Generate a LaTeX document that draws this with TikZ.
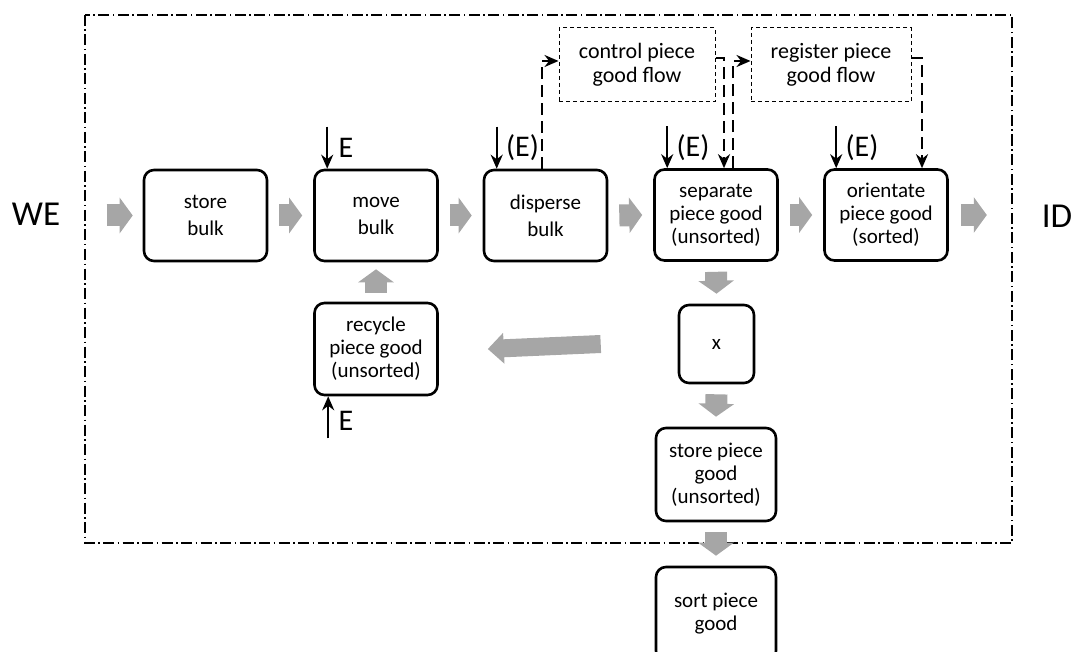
\documentclass[tikz,border=0pt]{standalone}
\usepackage{fontspec}
\setmainfont{Carlito}
\usetikzlibrary{arrows.meta}
\definecolor{garrowc}{RGB}{166,166,166}
\begin{document}
\begin{tikzpicture}[x=0.5pt,y=-0.5pt,
  box/.style={draw,line width=1.3pt,rounded corners=5pt,align=center,font=\fontsize{10.5}{11.5}\selectfont,inner sep=0pt,minimum width=61.5pt,minimum height=45.5pt},
  box2/.style={box,font=\fontsize{10.5}{13.5}\selectfont},
  dbox/.style={draw,line width=0.5pt,dash pattern=on 2pt off 1.5pt,align=center,font=\fontsize{11}{12}\selectfont,minimum width=78pt,minimum height=37pt,inner sep=0pt},
  garrow/.style={draw=garrowc,line width=11pt,-{Triangle[length=6.5pt,width=17.5pt]}},
  earrow/.style={line width=1.2pt,-{Stealth[length=7pt,width=6pt]}},
  dconn/.style={line width=1.4pt,dash pattern=on 6pt off 3pt,-{Stealth[length=7pt,width=6pt]}},
  elab/.style={font=\fontsize{15}{17}\selectfont,inner sep=0pt,anchor=west},
  big/.style={font=\fontsize{17.5}{21}\selectfont,inner sep=0pt}
]
\useasboundingbox (0,0) rectangle (1075,652);
\clip (0,0) rectangle (1075,652);

% frame
\draw[line width=0.6pt,dash pattern=on 5.5pt off 1.75pt on 0.75pt off 1.75pt] (85,15) rectangle (1012,543);

% boxes
\node[box2] (store) at (205.5,215.5) {store\\bulk};
\node[box2] (move) at (376,215.5) {move\\bulk};
\node[box2] (disp) at (545.5,215.5) {disperse\\bulk};
\node[box] (sep) at (716,215) {separate\\piece good\\(unsorted)};
\node[box] (ori) at (886,215) {orientate\\piece good\\(sorted)};
\node[box,minimum height=46pt] (rec) at (376,349) {recycle\\piece good\\(unsorted)};
\node[box,minimum width=37.5pt,minimum height=39pt] (x) at (716.5,344) {x};
\node[box,minimum width=60pt,minimum height=46.5pt] (spg) at (716,474.5) {store piece\\good\\(unsorted)};
\node[box,minimum width=60pt,minimum height=47pt] (sort) at (716,614) {sort piece\\good};
\node[dbox] (ctrl) at (637,65) {control piece\\good flow};
\node[dbox,minimum width=80pt] (reg) at (831,65) {register piece\\good flow};
\node[big] (we) at (36,214) {WE};
\node[big] (id) at (1057,216) {ID};

% gray flow arrows
\draw[garrow] ([xshift=-18pt]store.west) -- ([xshift=-5pt]store.west);
\draw[garrow] ([xshift=5.5pt]store.east) -- ([xshift=-5.5pt]move.west);
\draw[garrow] ([xshift=5.5pt]move.east) -- ([xshift=-5.5pt]disp.west);
\draw[garrow] ([xshift=5.5pt]disp.east) -- ([xshift=-5.5pt]sep.west);
\draw[garrow] ([xshift=5.5pt]sep.east) -- ([xshift=-5.5pt]ori.west);
\draw[garrow] ([xshift=6pt]ori.east) -- ([xshift=19pt]ori.east);
\draw[garrow] ([yshift=-5pt]sep.south) -- ([yshift=5pt]x.north);
\draw[garrow] ([yshift=-5pt]x.south) -- ([yshift=5pt]spg.north);
\draw[garrow] ([yshift=-5pt]spg.south) -- ([yshift=5pt]sort.north);
\draw[garrow] ([yshift=4.5pt]rec.north) -- ([yshift=-3.5pt]move.south);
\draw[garrow,line width=9pt,-{Triangle[length=8pt,width=15pt]}] ([xshift=-38.5pt]x.west) -- ([xshift=24.5pt]rec.east);

% energy inputs
\coordinate (mE) at ([xshift=7pt,yshift=21pt]move.north west);
\draw[earrow] (mE) -- ([xshift=7pt]move.north west);
\node[elab] (mEl) at ([xshift=5.5pt,yshift=-10.5pt]mE) {E};
\coordinate (dE) at ([xshift=7pt,yshift=21pt]disp.north west);
\draw[earrow] (dE) -- ([xshift=7pt]disp.north west);
\node[elab] (dEl) at ([xshift=4.5pt,yshift=-10.5pt]dE) {(E)};
\coordinate (sE) at ([xshift=7pt,yshift=21pt]sep.north west);
\draw[earrow] (sE) -- ([xshift=7pt]sep.north west);
\node[elab] (sEl) at ([xshift=4.5pt,yshift=-10.5pt]sE) {(E)};
\coordinate (oE) at ([xshift=6.5pt,yshift=21pt]ori.north west);
\draw[earrow] (oE) -- ([xshift=6.5pt]ori.north west);
\node[elab] (oEl) at ([xshift=4.5pt,yshift=-10.5pt]oE) {(E)};
\coordinate (rE) at ([xshift=7.5pt,yshift=-21pt]rec.south west);
\draw[earrow] (rE) -- ([xshift=7.5pt]rec.south west);
\node[elab] (rEl) at ([xshift=5pt,yshift=8.5pt]rE) {E};

% information flow
\draw[dconn] ([xshift=-1.75pt]disp.north) |- ([yshift=2pt]ctrl.west);
\draw[dconn] ([yshift=3.5pt]ctrl.east) -| ([xshift=4pt]sep.north);
\draw[dconn] ([xshift=8.5pt]sep.north) |- ([yshift=2pt]reg.west);
\draw[dconn] ([yshift=3.5pt]reg.east) -| ([xshift=18pt]ori.north);
\end{tikzpicture}
\end{document}
